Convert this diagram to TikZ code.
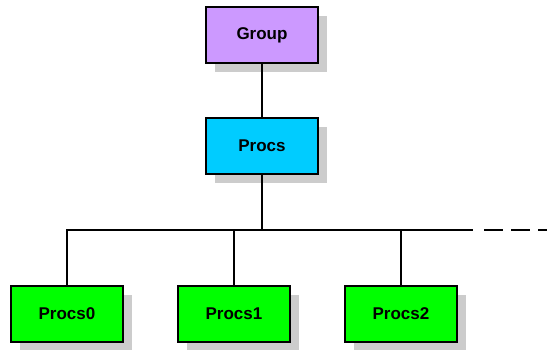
\documentclass[tikz,border=0pt]{standalone}
\usepackage{fontspec}
\setmainfont{Liberation Sans}
\usetikzlibrary{shadows}
\definecolor{grpfill}{HTML}{CC99FF}
\definecolor{procfill}{HTML}{00CCFF}
\definecolor{childfill}{HTML}{00FF00}
\definecolor{shadowgray}{HTML}{CCCCCC}
\tikzset{
  box/.style={draw=black, line width=2pt, minimum width=112pt, minimum height=56pt,
    inner sep=0pt, font=\fontsize{17}{20}\selectfont\bfseries,
    general shadow={fill=shadowgray, shadow xshift=9pt, shadow yshift=-9pt}},
  conn/.style={draw=black, line width=1.4pt},
}
\begin{document}
\begin{tikzpicture}[x=1pt,y=-1pt]
\useasboundingbox (0,0) rectangle (547,349);
\node[box, fill=grpfill] (group) at (262,35) {Group};
\node[box, fill=procfill] (procs) at (262,146) {Procs};
\node[box, fill=childfill] (p0) at (67,314) {Procs0};
\node[box, fill=childfill] (p1) at (234,314) {Procs1};
\node[box, fill=childfill] (p2) at (401,314) {Procs2};
\coordinate (busL) at (67,230);
\coordinate (busR) at (472,230);
\coordinate (dashL) at (484,230);
\coordinate (dashR) at (570,230);
\draw[conn] (group) -- (procs);
\draw[conn] (procs) -- (procs |- busL);
\draw[conn, line cap=rect] (busL) -- (busR);
\draw[conn] (p0) -- (p0 |- busL);
\draw[conn] (p1) -- (p1 |- busL);
\draw[conn] (p2) -- (p2 |- busL);
\draw[conn, dash pattern=on 18.5pt off 8.7pt] (dashL) -- (dashR);
\end{tikzpicture}
\end{document}
